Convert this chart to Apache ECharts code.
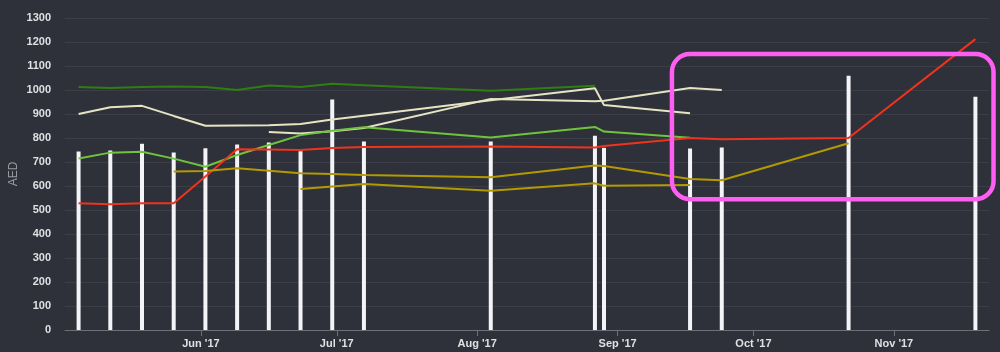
<!doctype html>
<html lang="en">

<head>
    <meta charset="UTF-8" />
    <title>AED price history</title>
    <style>
        html, body { margin: 0; padding: 0; background: #2e3139; }
        #chart { width: 1000px; height: 352px; }
    </style>
</head>

<body>
    <div id="chart"></div>
    <script src="https://cdn.jsdelivr.net/npm/echarts@6/dist/echarts.min.js"></script>
    <script>
        // weekly snapshot dates (the bars)
        const barDates = ['2017-05-05', '2017-05-12', '2017-05-19', '2017-05-26', '2017-06-02', '2017-06-09',
            '2017-06-16', '2017-06-23', '2017-06-30', '2017-07-07', '2017-08-04', '2017-08-27', '2017-08-29',
            '2017-09-17', '2017-09-24', '2017-10-22', '2017-11-19'];
        const barValues = [744, 748, 776, 740, 757, 773, 781, 745, 960, 785, 785, 809, 759, 756, 760, 1059, 972];

        // line series (values for a slice of barDates)
        const darkGreen = [1013, 1008, 1012, 1015, 1013, 1000, 1019, 1013, 1026, 1020, 997, 1018];
        const lightGreen = [715, 739, 743, 714, 680, 729, 771, 812, 830, 845, 802, 846, 827, 801];
        const creamA = [900, 928, 934, 892, 851, 852, 853, 858, 877, 893, 957, 1007, 937, 903];
        const creamB = [825, 819, 828, 842, 963, 953, 955, 1008, 1000];
        const red = [528, 524, 528, 528, 640, 753, 752, 750, 758, 762, 765, 760, 767, 800, 795, 800, 1212];
        const oliveA = [660, 662, 674, 664, 653, 650, 646, 636, 685, 683, 629, 624, 778];
        const oliveB = [587, 598, 608, 580, 611, 601, 604];

        // x axis ticks
        const monthTicks = ['2017-06-01', '2017-07-01', '2017-08-01', '2017-09-01', '2017-10-01', '2017-11-01'];
        const monthLabels = ["Jun '17", "Jul '17", "Aug '17", "Sep '17", "Oct '17", "Nov '17"];
        const xRange = ['2017-05-02', '2017-11-22'];

        // highlighted region: [from, to, top value, bottom value]
        const highlight = ['2017-09-13', '2017-11-23', 1150, 545];

        const ts = function (s) { return new Date(s + 'T00:00:00').getTime(); };
        const tickTimes = monthTicks.map(ts);

        function pairs(start, values) {
            return values.map(function (v, i) { return [ts(barDates[start + i]), v]; });
        }

        function lineSeries(start, values, color) {
            return {
                type: 'line',
                data: pairs(start, values),
                showSymbol: false,
                symbol: 'none',
                lineStyle: { color: color, width: 2 },
                itemStyle: { color: color }
            };
        }

        var chart = echarts.init(document.getElementById('chart'));

        chart.setOption({
            animation: false,
            backgroundColor: '#2e3139',
            grid: { left: 65, right: 11, top: 18, bottom: 22, outerBoundsMode: 'none', containLabel: false },
            xAxis: {
                type: 'value',
                min: ts(xRange[0]),
                max: ts(xRange[1]),
                axisLine: { lineStyle: { color: '#6e7079', width: 1 } },
                axisTick: {
                    customValues: tickTimes,
                    length: 6,
                    lineStyle: { color: '#6e7079' }
                },
                axisLabel: {
                    customValues: tickTimes,
                    color: '#e0e0e3',
                    fontSize: 11,
                    fontWeight: 'bold',
                    fontFamily: 'Liberation Sans',
                    margin: 8,
                    formatter: function (v) {
                        var i = tickTimes.indexOf(v);
                        return i >= 0 ? monthLabels[i] : '';
                    }
                },
                splitLine: { show: false }
            },
            yAxis: {
                type: 'value',
                min: 0,
                max: 1300,
                interval: 100,
                name: 'AED',
                nameLocation: 'middle',
                nameGap: 45,
                nameMoveOverlap: false,
                nameTextStyle: { color: '#9a9ba2', fontSize: 12, fontFamily: 'Liberation Sans' },
                axisLine: { show: false },
                axisTick: { show: false },
                axisLabel: {
                    color: '#e0e0e3',
                    fontSize: 11,
                    fontWeight: 'bold',
                    fontFamily: 'Liberation Sans',
                    margin: 14,
                    formatter: function (v) { return String(v); }
                },
                splitLine: { lineStyle: { color: '#3b3e47', width: 1 } }
            },
            series: [
                {
                    type: 'bar',
                    data: barDates.map(function (d, i) { return [ts(d), barValues[i]]; }),
                    barWidth: 4,
                    itemStyle: { color: '#f3f3f8' }
                },
                lineSeries(0, darkGreen, '#2f7f0f'),
                lineSeries(0, creamA, '#e6e4c2'),
                lineSeries(6, creamB, '#e6e4c2'),
                lineSeries(0, lightGreen, '#6fc43c'),
                lineSeries(0, red, '#f0321e'),
                lineSeries(3, oliveA, '#b29a00'),
                lineSeries(7, oliveB, '#b29a00')
            ]
        });

        // pink highlight box, placed from data coordinates
        var p1 = chart.convertToPixel({ gridIndex: 0 }, [ts(highlight[0]), highlight[2]]);
        var p2 = chart.convertToPixel({ gridIndex: 0 }, [ts(highlight[1]), highlight[3]]);
        chart.setOption({
            graphic: [{
                type: 'rect',
                z: 100,
                shape: { x: p1[0], y: p1[1], width: p2[0] - p1[0], height: p2[1] - p1[1], r: 18 },
                style: { fill: 'none', stroke: '#ff5ef2', lineWidth: 4.5 }
            }]
        });
    </script>
</body>

</html>
